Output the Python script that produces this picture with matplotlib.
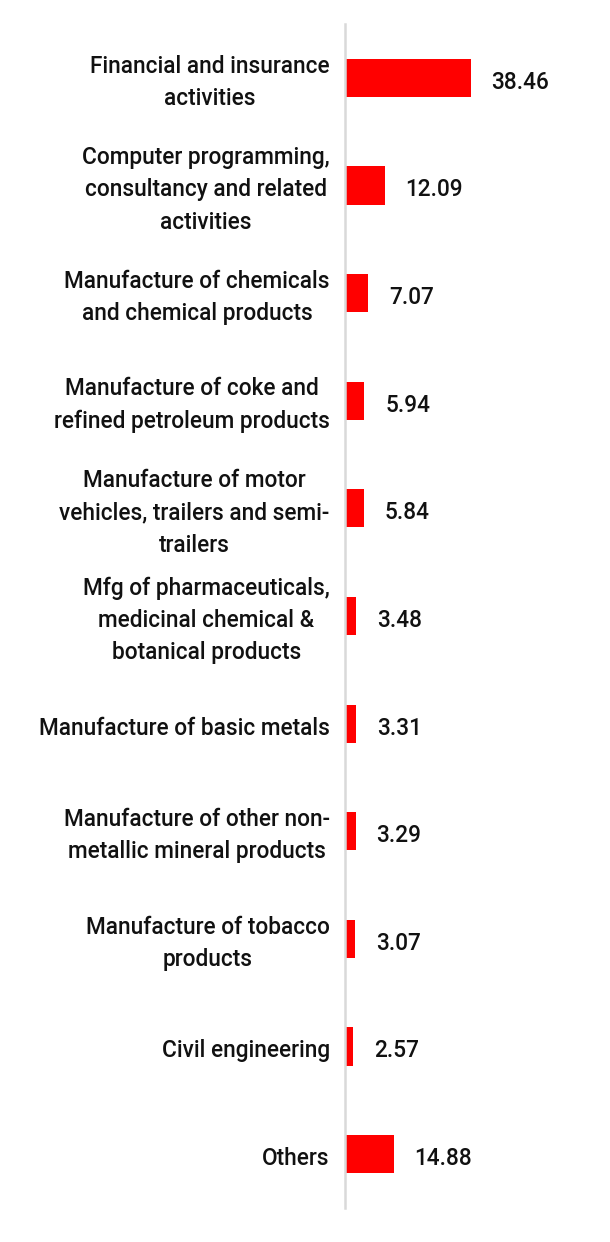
import matplotlib
matplotlib.use("Agg")
import matplotlib.pyplot as plt

categories = [
    "Financial and insurance\nactivities",
    "Computer programming,\nconsultancy and related\nactivities",
    "Manufacture of chemicals\nand chemical products",
    "Manufacture of coke and\nrefined petroleum products",
    "Manufacture of motor\nvehicles, trailers and semi-\ntrailers",
    "Mfg of pharmaceuticals,\nmedicinal chemical &\nbotanical products",
    "Manufacture of basic metals",
    "Manufacture of other non-\nmetallic mineral products",
    "Manufacture of tobacco\nproducts",
    "Civil engineering",
    "Others",
]
values = [38.46, 12.09, 7.07, 5.94, 5.84, 3.48, 3.31, 3.29, 3.07, 2.57, 14.88]
value_labels = ["38.46", "12.09", "7.07", "5.94", "5.84", "3.48", "3.31", "3.29", "3.07", "2.57", "14.88"]

plt.rcParams['font.family'] = ['Roboto', 'DejaVu Sans']

fig = plt.figure(figsize=(6.1, 12.42), dpi=100)
ax = fig.add_axes([345/610, 34/1242, 1 - 345/610, (1208-24)/1242])

pos = list(range(len(categories)))
ax.barh(pos, values, height=0.355, color='#ff0000', zorder=2)
ax.set_ylim(len(categories) - 0.5, -0.5)
ax.set_xlim(0, 265/3.27)

for s in ['top', 'right', 'bottom']:
    ax.spines[s].set_visible(False)
ax.spines['left'].set_color('#d9d9d9')
ax.spines['left'].set_linewidth(1.8)
ax.set_xticks([])
ax.set_yticks([])

for i, (cat, v, lab) in enumerate(zip(categories, values, value_labels)):
    ax.annotate(cat, xy=(0, i), xytext=(-11, -3.2), textcoords='offset points',
                ha='right', va='center', multialignment='center',
                fontsize=16.3, fontweight='medium', color='#111111', linespacing=1.52)
    ax.annotate(lab, xy=(v, i), xytext=(15, -3.2), textcoords='offset points',
                ha='left', va='center', fontsize=16.3, fontweight='medium', color='#111111')

fig.savefig("out.png", dpi=100)
